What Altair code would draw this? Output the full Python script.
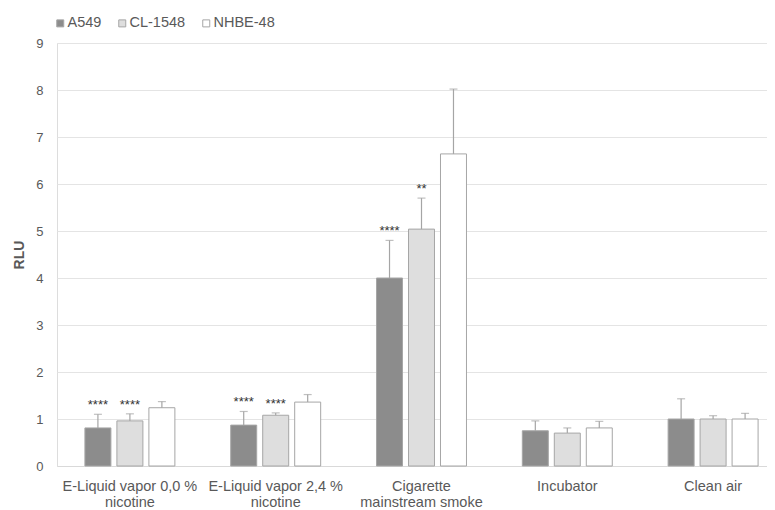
import altair as alt
import pandas as pd

categories = ["E-Liquid vapor 0,0 %|nicotine", "E-Liquid vapor 2,4 %|nicotine",
              "Cigarette|mainstream smoke", "Incubator", "Clean air"]
series = ["A549", "CL-1548", "NHBE-48"]
a549 = [0.81, 0.87, 4.00, 0.75, 1.00]
a549_err = [1.10, 1.16, 4.80, 0.96, 1.43]
cl1548 = [0.96, 1.08, 5.04, 0.70, 1.00]
cl1548_err = [1.11, 1.13, 5.70, 0.81, 1.07]
nhbe48 = [1.24, 1.36, 6.64, 0.81, 1.00]
nhbe48_err = [1.37, 1.52, 8.02, 0.95, 1.12]
a549_sig = ["****", "****", "****", "", ""]
cl1548_sig = ["****", "****", "**", "", ""]
nhbe48_sig = ["", "", "", "", ""]
colors = ["#8c8c8c", "#dedede", "#ffffff"]

rows = []
for s, vals, errs, sigs in [("A549", a549, a549_err, a549_sig),
                            ("CL-1548", cl1548, cl1548_err, cl1548_sig),
                            ("NHBE-48", nhbe48, nhbe48_err, nhbe48_sig)]:
    for c, v, e, g in zip(categories, vals, errs, sigs):
        rows.append({"category": c, "series": s, "value": v, "err": e, "sig": g})
df = pd.DataFrame(rows)

FONT = "Liberation Sans"
GRAY = "#595959"

x = alt.X("category:N", sort=categories,
          scale=alt.Scale(range=[0, 729], paddingInner=0.383, paddingOuter=0.1915),
          axis=alt.Axis(title=None, labelAngle=0, labelFontSize=14.5, labelColor=GRAY,
                        labelFont=FONT, labelPadding=13, labelLineHeight=16,
                        labelExpr="split(datum.label, '|')", ticks=False,
                        domainColor="#d9d9d9", labelBaseline="top"))
xo = alt.XOffset("series:N", sort=series,
                 scale=alt.Scale(paddingInner=0.1875, paddingOuter=0))

base = alt.Chart(df)

bars = base.mark_bar(stroke="#a6a6a6", strokeWidth=1).encode(
    x=x, xOffset=xo,
    y=alt.Y("value:Q", scale=alt.Scale(domain=[0, 9], nice=False),
            axis=alt.Axis(values=list(range(10)), title="RLU", titleFontWeight="bold",
                          titleFontSize=14, titleColor=GRAY, titleFont=FONT,
                          titlePadding=9, labelFontSize=13, labelColor=GRAY,
                          labelFont=FONT, labelPadding=14, ticks=False, domain=False,
                          gridColor="#e4e4e4")),
    color=alt.Color("series:N", sort=series,
                    scale=alt.Scale(domain=series, range=colors),
                    legend=alt.Legend(title=None, orient="none", legendX=-4, legendY=-27,
                                      direction="horizontal", symbolType="square",
                                      symbolSize=49, symbolStrokeColor="#a6a6a6",
                                      symbolStrokeWidth=1, labelFontSize=14.5,
                                      labelColor=GRAY, labelFont=FONT,
                                      columnPadding=13, labelOffset=0)),
)

rules = base.mark_rule(color="#a5a5a5", strokeWidth=1.2).encode(
    x=x, xOffset=xo, y="value:Q", y2="err:Q")
caps = base.mark_tick(color="#a5a5a5", thickness=1.2, size=8).encode(
    x=x, xOffset=xo, y="err:Q")
stars = base.mark_text(dy=-5, fontSize=13, color="#333333", font=FONT,
                       baseline="alphabetic").encode(
    x=x, xOffset=xo, y="err:Q", text="sig:N")

chart = alt.layer(bars, rules, caps, stars).properties(
    width=710, height=423,
    autosize=alt.AutoSizeParams(type="none"),
    padding={"left": 49, "top": 35, "right": 0, "bottom": 44},
).configure_view(stroke=None).configure(font=FONT)

chart.save("out.html", embed_options={"renderer": "svg", "actions": False})
